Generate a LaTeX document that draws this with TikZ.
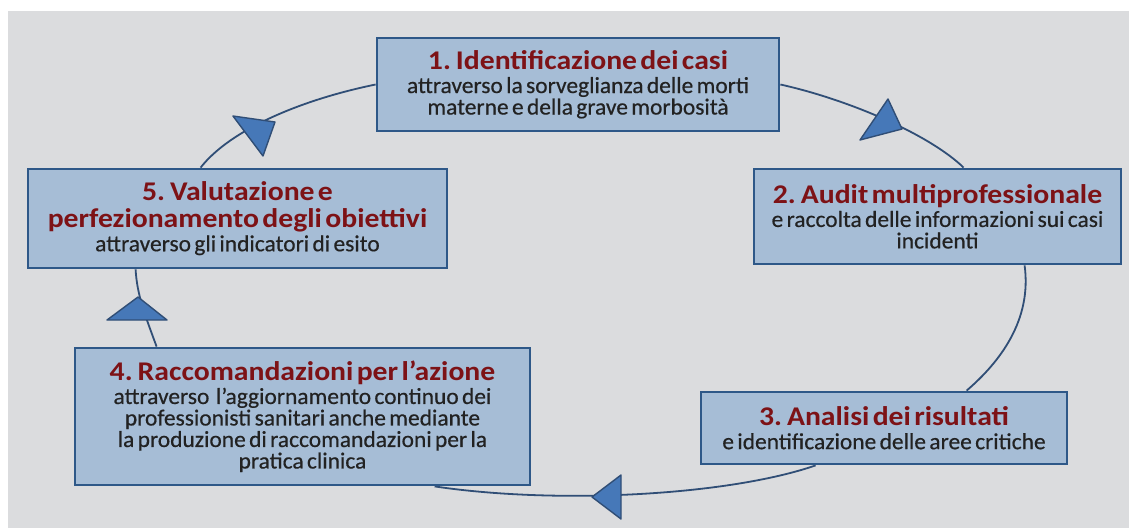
\documentclass[tikz,border=0pt]{standalone}
\usepackage{fontspec}
\usetikzlibrary{backgrounds}
\setmainfont{Carlito}
\newfontfamily\ttlfont[FakeStretch=1.1]{Carlito}
\newfontfamily\bdyfont[FakeStretch=1.02,FakeBold=0.5]{Carlito}
\definecolor{bggray}{RGB}{219,220,222}
\definecolor{boxfill}{RGB}{166,189,214}
\definecolor{boxborder}{RGB}{46,88,136}
\definecolor{connline}{RGB}{48,78,118}
\definecolor{arrowfill}{RGB}{70,120,184}
\definecolor{ttlred}{RGB}{125,18,22}
\definecolor{bdytext}{RGB}{34,34,34}
\newcommand{\boxttl}{\ttlfont\bfseries\fontsize{27}{27}\selectfont\color{ttlred}}
\newcommand{\boxbdy}{\bdyfont\fontsize{23}{21.5}\selectfont\color{bdytext}}
\newcommand{\ttlgap}{\vspace{2pt}}
\tikzset{
  procbox/.style={draw=boxborder, line width=2.8pt, fill=boxfill, inner sep=0pt, align=center},
  conn/.style={draw=connline, line width=1.8pt},
  arrowtri/.style={fill=arrowfill, draw=connline, line width=1.4pt, line join=round}
}
\begin{document}
\begin{tikzpicture}[x=1pt,y=-1pt]
\useasboundingbox (0,0) rectangle (1129,528);

% boxes
\node[procbox, minimum width=402pt, minimum height=93pt, text width=398pt] (b1) at (578,84.5)
  {{\boxttl 1. Identificazione dei casi\par}\ttlgap{\boxbdy attraverso la sorveglianza delle morti\\materne e della grave morbosità\par}};
\node[procbox, minimum width=367pt, minimum height=95pt, text width=363pt] (b2) at (937.5,216.5)
  {{\boxttl 2. Audit multiprofessionale\par}\ttlgap{\boxbdy e raccolta delle informazioni sui casi\\incidenti\par}};
\node[procbox, minimum width=366pt, minimum height=72pt, text width=362pt] (b3) at (884,428)
  {{\boxttl 3. Analisi dei risultati\par}\ttlgap{\boxbdy e identificazione delle aree critiche\par}};
\node[procbox, minimum width=455pt, minimum height=137pt, text width=451pt] (b4) at (302.5,416.5)
  {{\boxttl 4. Raccomandazioni per l’azione\par}\ttlgap{\boxbdy attraverso~ l’aggiornamento continuo dei\\professionisti sanitari anche mediante\\la produzione di raccomandazioni per la\\pratica clinica\par}};
\node[procbox, minimum width=419pt, minimum height=99pt, text width=415pt] (b5) at (237.5,218.5)
  {{\boxttl 5. Valutazione e\\perfezionamento degli obiettivi\par}\ttlgap{\boxbdy attraverso gli indicatori di esito\par}};

\coordinate (c5a) at ([xshift=174pt]b5.north west);
\coordinate (c1a) at ([xshift=211pt]b2.north west);
\coordinate (c2a) at ([xshift=272pt]b2.south west);
\coordinate (c3a) at ([xshift=267pt]b3.north west);
\coordinate (c3b) at ([xshift=116pt]b3.south west);
\coordinate (c4a) at ([xshift=361pt]b4.south west);
\coordinate (c4b) at ([xshift=83pt]b4.north west);
\coordinate (c5b) at ([xshift=109pt]b5.south west);

\begin{scope}[on background layer]
\fill[white] (0,0) rectangle (1129,528);
\fill[bggray] (8,11) rectangle (1129,528);
% connectors
\draw[conn] (c5a) .. controls (230,130) and (300,100) .. (b1.west);
\draw[conn] (b1.east) .. controls (850,100) and (930,135) .. (c1a);
\draw[conn] (c2a) .. controls (1032,320) and (1000,362) .. (c3a);
\draw[conn] (c3b) .. controls (730,495) and (560,505) .. (c4a);
\draw[conn] (c4b) .. controls (145,315) and (137,295) .. (c5b);
% arrowheads
\draw[arrowtri] (275,122) -- (233,116) -- (263,156) -- cycle;
\draw[arrowtri] (902,129) -- (888,99) -- (860,140) -- cycle;
\draw[arrowtri] (592,497) -- (621,475) -- (621,519) -- cycle;
\draw[arrowtri] (138,297) -- (107,320) -- (167,320) -- cycle;
\end{scope}
\end{tikzpicture}
\end{document}
